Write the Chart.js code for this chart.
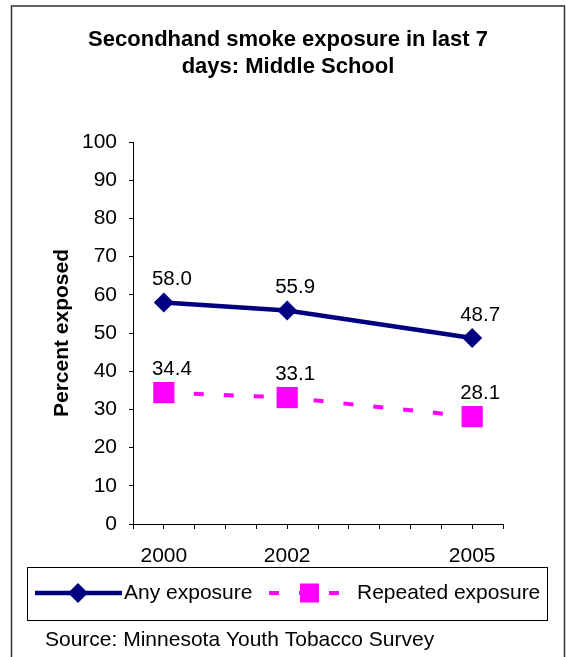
<!DOCTYPE html>
<html>
<head>
<meta charset="utf-8">
<script src="https://cdn.jsdelivr.net/npm/chart.js@4/dist/chart.umd.min.js"></script>
<style>
  html, body { margin: 0; padding: 0; background: #ffffff; }
  #wrap { width: 566px; height: 657px; position: relative; }
</style>
</head>
<body>
<div id="wrap"><canvas id="c" width="566" height="657"></canvas></div>
<script>
// Survey years and percentages
const years = [2000, 2002, 2005];
const anyExposure = [58.0, 55.9, 48.7];
const repeatedExposure = [34.4, 33.1, 28.1];
const seriesNames = ['Any exposure', 'Repeated exposure'];
const titleLines = ['Secondhand smoke exposure in last 7', 'days: Middle School'];
const yAxisTitle = 'Percent exposed';
const sourceNote = 'Source: Minnesota Youth Tobacco Survey';

const FONT = '"Liberation Sans", Arial, Helvetica, sans-serif';
const NAVY = '#000080';
const MAGENTA = '#FF00FF';

const toPoints = (vals) => vals.map((v, i) => ({ x: years[i], y: v }));

// Value labels above each marker
const valueLabels = {
  id: 'valueLabels',
  afterDatasetsDraw(chart) {
    const ctx = chart.ctx;
    ctx.save();
    ctx.font = '20.5px ' + FONT;
    ctx.fillStyle = '#000';
    ctx.textAlign = 'center';
    ctx.textBaseline = 'middle';
    chart.data.datasets.forEach((ds, i) => {
      const meta = chart.getDatasetMeta(i);
      meta.data.forEach((pt, j) => {
        ctx.fillText(ds.data[j].y.toFixed(1), pt.x + 8, pt.y - 23);
      });
    });
    ctx.restore();
  }
};

// Outer frame, boxed legend and source line
const decorations = {
  id: 'decorations',
  afterDraw(chart) {
    const ctx = chart.ctx;
    const ds = chart.data.datasets;
    ctx.save();
    // frame
    ctx.strokeStyle = '#333';
    ctx.lineWidth = 1.5;
    ctx.strokeRect(11.5, 6, 553, 700);

    // legend box
    ctx.strokeStyle = '#000';
    ctx.lineWidth = 1;
    ctx.strokeRect(27.5, 567.5, 520, 53);
    const ly = 593;

    // series 1 sample
    ctx.strokeStyle = ds[0].borderColor;
    ctx.lineWidth = ds[0].borderWidth;
    ctx.setLineDash([]);
    ctx.beginPath(); ctx.moveTo(35, ly); ctx.lineTo(122, ly); ctx.stroke();
    ctx.fillStyle = ds[0].pointBackgroundColor;
    const r = ds[0].pointRadius;
    ctx.beginPath();
    ctx.moveTo(78, ly - r); ctx.lineTo(78 + r, ly); ctx.lineTo(78, ly + r); ctx.lineTo(78 - r, ly);
    ctx.closePath(); ctx.fill();

    // series 2 sample
    ctx.strokeStyle = ds[1].borderColor;
    ctx.lineWidth = ds[1].borderWidth;
    ctx.setLineDash(ds[1].borderDash);
    ctx.beginPath(); ctx.moveTo(269, ly); ctx.lineTo(340, ly); ctx.stroke();
    ctx.setLineDash([]);
    ctx.fillStyle = ds[1].pointBackgroundColor;
    ctx.fillRect(300, ly - 9.5, 19, 19);

    ctx.fillStyle = '#000';
    ctx.font = '21px ' + FONT;
    ctx.textAlign = 'left';
    ctx.textBaseline = 'middle';
    ctx.fillText(ds[0].label, 124, ly);
    ctx.fillText(ds[1].label, 357, ly);

    // source
    ctx.fillText(sourceNote, 45, 640);
    ctx.restore();
  }
};

new Chart(document.getElementById('c'), {
  type: 'line',
  data: {
    datasets: [
      {
        label: seriesNames[0],
        data: toPoints(anyExposure),
        borderColor: NAVY,
        backgroundColor: NAVY,
        borderWidth: 4.5,
        pointStyle: 'rectRot',
        pointRadius: 10,
        pointHoverRadius: 10,
        pointBackgroundColor: NAVY,
        pointBorderColor: NAVY,
        pointBorderWidth: 0,
        tension: 0
      },
      {
        label: seriesNames[1],
        data: toPoints(repeatedExposure),
        borderColor: MAGENTA,
        backgroundColor: MAGENTA,
        borderWidth: 4,
        borderDash: [10, 20],
        pointStyle: 'rect',
        pointRadius: 15,
        pointHoverRadius: 15,
        pointBackgroundColor: MAGENTA,
        pointBorderColor: MAGENTA,
        pointBorderWidth: 0,
        tension: 0
      }
    ]
  },
  options: {
    responsive: false,
    animation: false,
    devicePixelRatio: 1,
    layout: { padding: { left: 73, right: 63, top: 0, bottom: 93 } },
    plugins: {
      legend: { display: false },
      tooltip: { enabled: false },
      title: {
        display: true,
        text: titleLines,
        color: '#000',
        font: { family: FONT, size: 22, weight: 'bold', lineHeight: '27px' },
        padding: { top: 26.5, bottom: 61.5 }
      }
    },
    scales: {
      x: {
        type: 'linear',
        min: 1999.5,
        max: 2005.5,
        afterFit(scale) { scale.height = 40; },
        ticks: {
          stepSize: 0.5,
          maxTicksLimit: 20,
          autoSkip: false,
          maxRotation: 0,
          color: '#000',
          padding: 15,
          font: { family: FONT, size: 21 },
          callback: (v) => (years.includes(v) ? String(v) : '')
        },
        grid: { drawOnChartArea: false, drawTicks: true, tickLength: 5, color: '#000' },
        border: { display: true, color: '#000', width: 1 }
      },
      y: {
        min: 0,
        max: 100,
        afterFit(scale) { scale.width = 60; },
        ticks: {
          stepSize: 10,
          color: '#000',
          padding: 12,
          font: { family: FONT, size: 21 }
        },
        title: {
          display: true,
          text: yAxisTitle,
          color: '#000',
          font: { family: FONT, size: 21, weight: 'bold' },
          padding: { top: -23.6, bottom: 0 }
        },
        grid: { drawOnChartArea: false, drawTicks: true, tickLength: 4, color: '#000' },
        border: { display: true, color: '#000', width: 1 }
      }
    }
  },
  plugins: [valueLabels, decorations]
});
</script>
</body>
</html>
